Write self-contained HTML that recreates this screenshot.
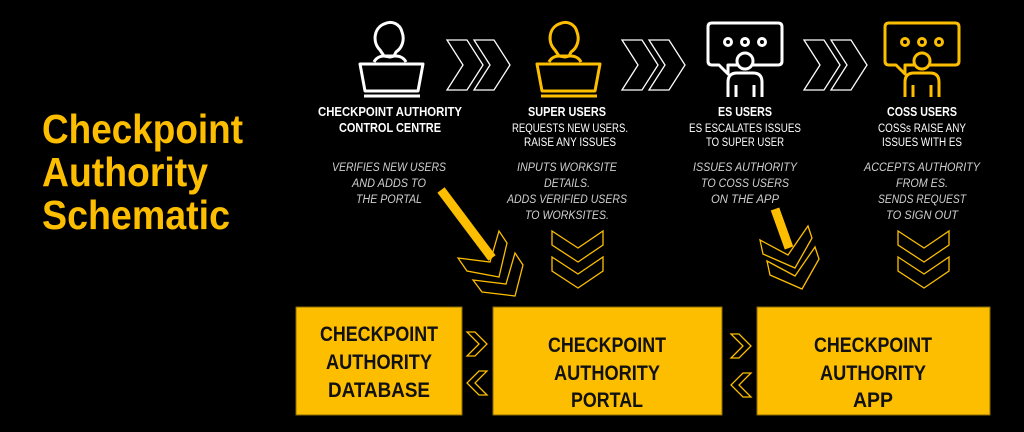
<!DOCTYPE html>
<html><head><meta charset="utf-8"><style>
html,body{margin:0;padding:0;background:#000;}
svg{display:block}
text{font-family:"Liberation Sans",sans-serif;}
</style></head><body>
<svg width="1024" height="432" viewBox="0 0 1024 432" xmlns="http://www.w3.org/2000/svg">
<rect width="1024" height="432" fill="#000"/>
<!-- Title -->
<g fill="#FDBE00" font-weight="bold" font-size="41">
<text x="42" y="143" textLength="201" lengthAdjust="spacingAndGlyphs">Checkpoint</text>
<text x="42" y="186" textLength="166" lengthAdjust="spacingAndGlyphs">Authority</text>
<text x="42" y="229" textLength="188" lengthAdjust="spacingAndGlyphs">Schematic</text>
</g>

<!-- Person at laptop icons -->
<g fill="none" stroke="#fff" stroke-width="3" stroke-linejoin="round">
<path d="M380,50 C372,42 374,28 384,24 C392,20 400,24 402,32 C405,40 402,48 396,52 L394,56 L390,57 L384,56 Z"/>
<path d="M374,62 C376,58 380,56 384,56 L396,56 C400,56 404,58 406,62"/>
<path d="M360,64 L423,64 L418,91 L365,91 Z"/>
<line x1="364" y1="96" x2="420" y2="96"/>
</g>
<g fill="none" stroke="#FDBE00" stroke-width="3" stroke-linejoin="round">
<path d="M555,50 C547,42 549,28 559,24 C567,20 575,24 577,32 C580,40 577,48 571,52 L569,56 L565,57 L559,56 Z"/>
<path d="M549,62 C551,58 555,56 559,56 L571,56 C575,56 579,58 581,62"/>
<path d="M537,64 L600,64 L595,91 L542,91 Z"/>
<line x1="541" y1="96" x2="597" y2="96"/>
</g>

<!-- chat icons -->
<g fill="none" stroke="#fff" stroke-width="3" stroke-linejoin="round">
<path d="M737,65 L728,65 L728,74 L719,65 L712,65 Q708,65 708,61 L708,27 Q708,23 712,23 L778,23 Q782,23 782,27 L782,61 Q782,65 778,65 L753,65"/>
<circle cx="728" cy="42" r="3.5"/><circle cx="745" cy="42" r="3.5"/><circle cx="762" cy="42" r="3.5"/>
<circle cx="745" cy="61" r="8"/>
<path d="M728,97 L728,82 Q728,73 737,73 L753,73 Q762,73 762,82 L762,97"/>
<line x1="736" y1="85" x2="736" y2="97"/><line x1="754" y1="85" x2="754" y2="97"/>
</g>
<g fill="none" stroke="#FDBE00" stroke-width="3" stroke-linejoin="round">
<path d="M914,65 L905,65 L905,74 L896,65 L889,65 Q885,65 885,61 L885,27 Q885,23 889,23 L955,23 Q959,23 959,27 L959,61 Q959,65 955,65 L930,65"/>
<circle cx="905" cy="42" r="3.5"/><circle cx="922" cy="42" r="3.5"/><circle cx="939" cy="42" r="3.5"/>
<circle cx="922" cy="61" r="8"/>
<path d="M905,97 L905,82 Q905,73 914,73 L930,73 Q939,73 939,82 L939,97"/>
<line x1="913" y1="85" x2="913" y2="97"/><line x1="931" y1="85" x2="931" y2="97"/>
</g>

<!-- top chevrons white -->
<g fill="none" stroke="#fff" stroke-width="1.3">
<path d="M447,40 L467,40 L483,65 L467,90 L447,90 L463,65 Z"/>
<path d="M474,40 L494,40 L510,65 L494,90 L474,90 L490,65 Z"/>
<path d="M622,40 L642,40 L658,65 L642,90 L622,90 L638,65 Z"/>
<path d="M649,40 L669,40 L685,65 L669,90 L649,90 L665,65 Z"/>
<path d="M804,40 L824,40 L840,65 L824,90 L804,90 L820,65 Z"/>
<path d="M831,40 L851,40 L867,65 L851,90 L831,90 L847,65 Z"/>
</g>

<!-- headings -->
<g fill="#fff" font-weight="bold" font-size="12.5" text-anchor="middle">
<text x="390" y="116" textLength="144" lengthAdjust="spacingAndGlyphs">CHECKPOINT AUTHORITY</text>
<text x="390" y="132" textLength="102" lengthAdjust="spacingAndGlyphs">CONTROL CENTRE</text>
<text x="567" y="116" textLength="78" lengthAdjust="spacingAndGlyphs">SUPER USERS</text>
<text x="745" y="116" textLength="54" lengthAdjust="spacingAndGlyphs">ES USERS</text>
<text x="922" y="116" textLength="70" lengthAdjust="spacingAndGlyphs">COSS USERS</text>
</g>
<g fill="#fff" font-size="11.5" text-anchor="middle">
<text x="570" y="132" textLength="116" lengthAdjust="spacingAndGlyphs">REQUESTS NEW USERS.</text>
<text x="570" y="146" textLength="92" lengthAdjust="spacingAndGlyphs">RAISE ANY ISSUES</text>
<text x="745" y="132" textLength="112" lengthAdjust="spacingAndGlyphs">ES ESCALATES ISSUES</text>
<text x="745" y="146" textLength="78" lengthAdjust="spacingAndGlyphs">TO SUPER USER</text>
<text x="922" y="132" textLength="88" lengthAdjust="spacingAndGlyphs">COSSs RAISE ANY</text>
<text x="922" y="146" textLength="80" lengthAdjust="spacingAndGlyphs">ISSUES WITH ES</text>
</g>
<g fill="#d0d0d0" font-size="11.5" font-style="italic" text-anchor="middle">
<text x="389" y="171" textLength="114" lengthAdjust="spacingAndGlyphs">VERIFIES NEW USERS</text>
<text x="389" y="187" textLength="74" lengthAdjust="spacingAndGlyphs">AND ADDS TO</text>
<text x="389" y="203" textLength="66" lengthAdjust="spacingAndGlyphs">THE PORTAL</text>
<text x="567" y="171" textLength="100" lengthAdjust="spacingAndGlyphs">INPUTS WORKSITE</text>
<text x="567" y="187" textLength="46" lengthAdjust="spacingAndGlyphs">DETAILS.</text>
<text x="567" y="203" textLength="120" lengthAdjust="spacingAndGlyphs">ADDS VERIFIED USERS</text>
<text x="567" y="219" textLength="84" lengthAdjust="spacingAndGlyphs">TO WORKSITES.</text>
<text x="745" y="171" textLength="104" lengthAdjust="spacingAndGlyphs">ISSUES AUTHORITY</text>
<text x="745" y="187" textLength="88" lengthAdjust="spacingAndGlyphs">TO  COSS USERS</text>
<text x="745" y="203" textLength="68" lengthAdjust="spacingAndGlyphs">ON THE APP</text>
<text x="922" y="171" textLength="116" lengthAdjust="spacingAndGlyphs">ACCEPTS AUTHORITY</text>
<text x="922" y="187" textLength="52" lengthAdjust="spacingAndGlyphs">FROM ES.</text>
<text x="922" y="203" textLength="88" lengthAdjust="spacingAndGlyphs">SENDS REQUEST</text>
<text x="922" y="219" textLength="72" lengthAdjust="spacingAndGlyphs">TO SIGN OUT</text>
</g>

<!-- yellow arrows -->
<line x1="441" y1="190" x2="492" y2="258" stroke="#FDBE00" stroke-width="9"/>
<line x1="775" y1="209" x2="789" y2="248" stroke="#FDBE00" stroke-width="9"/>

<!-- yellow down chevrons -->
<g fill="none" stroke="#FDBE00" stroke-width="1.3">
<path d="M552,231 L578,248 L603,231 L603,245 L578,262 L552,245 Z"/>
<path d="M552,257 L578,274 L603,257 L603,271 L578,288 L552,271 Z"/>
<path d="M898,231 L924,248 L949,231 L949,245 L924,262 L898,245 Z"/>
<path d="M898,257 L924,274 L949,257 L949,271 L924,288 L898,271 Z"/>
<path d="M458,258 L490,262 L499,231 L507,243 L499,277 L467,271 Z"/>
<path d="M473,280 L506,284 L515,253 L523,265 L515,296 L482,292 Z"/>
<path d="M760,240 L788,255 L808,226 L812,238 L795,268 L763,254 Z"/>
<path d="M767,261 L795,276 L815,247 L819,259 L802,289 L770,275 Z"/>
</g>

<!-- boxes -->
<g fill="#FDBE00" stroke="#8a6a00" stroke-width="1">
<rect x="296" y="307" width="166" height="108"/>
<rect x="493" y="307" width="229" height="108"/>
<rect x="757" y="307" width="233" height="108"/>
</g>
<g fill="#111" font-weight="bold" font-size="21" text-anchor="middle">
<text x="379" y="341" textLength="118" lengthAdjust="spacingAndGlyphs">CHECKPOINT</text>
<text x="379" y="369" textLength="106" lengthAdjust="spacingAndGlyphs">AUTHORITY</text>
<text x="379" y="397" textLength="102" lengthAdjust="spacingAndGlyphs">DATABASE</text>
<text x="607" y="352" textLength="118" lengthAdjust="spacingAndGlyphs">CHECKPOINT</text>
<text x="607" y="380" textLength="106" lengthAdjust="spacingAndGlyphs">AUTHORITY</text>
<text x="607" y="407" textLength="72" lengthAdjust="spacingAndGlyphs">PORTAL</text>
<text x="873" y="352" textLength="118" lengthAdjust="spacingAndGlyphs">CHECKPOINT</text>
<text x="873" y="380" textLength="106" lengthAdjust="spacingAndGlyphs">AUTHORITY</text>
<text x="873" y="407" textLength="40" lengthAdjust="spacingAndGlyphs">APP</text>
</g>
<!-- box chevrons -->
<g fill="none" stroke="#FDBE00" stroke-width="1.3">
<path d="M467,332 L475,332 L487,344 L475,356 L467,356 L479,344 Z"/>
<path d="M487,371 L479,371 L467,383 L479,395 L487,395 L475,383 Z"/>
<path d="M731,334 L739,334 L751,346 L739,358 L731,358 L743,346 Z"/>
<path d="M751,373 L743,373 L731,385 L743,397 L751,397 L739,385 Z"/>
</g>
</svg>
</body></html>
